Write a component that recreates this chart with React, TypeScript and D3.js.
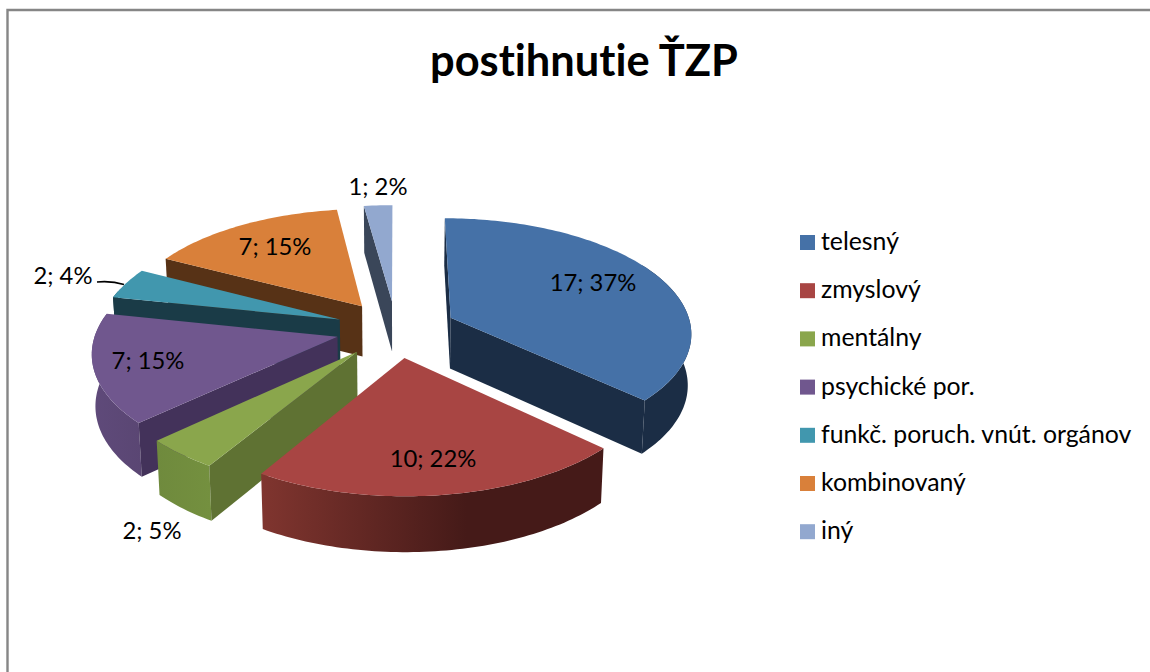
import React from "react";
import * as d3 from "d3";

const categories = ["telesný", "zmyslový", "mentálny", "psychické por.", "funkč. poruch. vnút. orgánov", "kombinovaný", "iný"];
const counts = [17, 10, 2, 7, 2, 7, 1];
const percents = [37, 22, 5, 15, 4, 15, 2];
const title = "postihnutie ŤZP";

const topColors = ["#4571A7", "#A84543", "#8AA64C", "#70578E", "#4197AE", "#D9803A", "#92A8CF"];
const wallColors = ["#1B2D45", "#451A18", "#5F7233", "#43325A", "#1A3B47", "#573216", "#3A4659"];
const outerFrom = ["#1B2D45", "#80352F", "#6F8A3D", "#5F4A7A", "#1A3B47", "#573216", "#3A4659"];
const outerTo = ["#1B2D45", "#451A18", "#74903F", "#5A4673", "#1A3B47", "#573216", "#3A4659"];
const legendColors = ["#4571A7", "#A84543", "#8AA64C", "#70578E", "#4197AE", "#D9803A", "#92A8CF"];
const labelPos: [number, number][] = [[593, 291], [433, 467], [152, 539], [148, 369], [63, 284], [275, 255], [378, 195]];

const CX = 396, CY = 329, RX = 241, RY = 114, P = 0.12, EXPLODE = 0.25;
const pieGen = d3.pie<number>().sort(null).value((d) => d);
const slices = pieGen(counts);
const xScale = d3.scaleLinear().domain([0, 1]).range([0, RX]);
const yScale = d3.scaleLinear().domain([0, 1]).range([0, RY]);
const line = d3.line<[number, number]>().x((d) => d[0]).y((d) => d[1]);

function project(u: number, v: number, bottom: boolean): [number, number] {
  const w = 1 - P * v;
  let X = xScale(u) / w;
  let Y = yScale(v) / w;
  if (bottom) {
    X *= 0.988;
    Y += 51 / (1 - 0.07 * v);
  }
  return [CX + X, CY + Y];
}

function rim(a0: number, a1: number, u0: number, v0: number, bottom: boolean) {
  const n = Math.max(2, Math.ceil(Math.abs(a1 - a0) / 0.02));
  return d3.range(n + 1).map((i) => {
    const a = a0 + ((a1 - a0) * i) / n;
    return project(u0 + Math.sin(a), v0 - Math.cos(a), bottom);
  });
}

export default function App() {
  const rad = (x: number) => (x * Math.PI) / 180;
  const order = [6, 5, 4, 3, 2, 1, 0];
  return (
    <svg width={1150} height={672} viewBox="0 0 1150 672" style={{ position: "absolute", left: 0, top: 0, display: "block", background: "#fff", fontVariantLigatures: "none" }} fontFamily="Lato, Carlito, sans-serif">
      <defs>
        {slices.map((_, i) => (
          <linearGradient key={i} id={`outer${i}`} x1="0" x2="1" y1="0" y2="0">
            <stop offset="0" stopColor={outerFrom[i]} />
            <stop offset={i === 1 ? "0.6" : "1"} stopColor={outerTo[i]} />
            <stop offset="1" stopColor={outerTo[i]} />
          </linearGradient>
        ))}
      </defs>
      <path d="M7.5 672V10H1150" fill="none" stroke="#868686" strokeWidth={2.4} />
      <text x={584} y={76} textAnchor="middle" fontSize={43.4} fontWeight={700} fill="#000">{title}</text>
      {order.map((i) => {
        const s = slices[i];
        const a0 = s.startAngle, a1 = s.endAngle, mid = (a0 + a1) / 2;
        const u0 = EXPLODE * Math.sin(mid), v0 = -EXPLODE * Math.cos(mid);
        const apexT = project(u0, v0, false), apexB = project(u0, v0, true);
        const startT = project(u0 + Math.sin(a0), v0 - Math.cos(a0), false);
        const startB = project(u0 + Math.sin(a0), v0 - Math.cos(a0), true);
        const endT = project(u0 + Math.sin(a1), v0 - Math.cos(a1), false);
        const endB = project(u0 + Math.sin(a1), v0 - Math.cos(a1), true);
        const showStart = -Math.cos(a0 - Math.PI / 2) > -1e-6;
        const showEnd = -Math.cos(a1 + Math.PI / 2) > 1e-6;
        const oa0 = Math.max(a0, rad(60)), oa1 = Math.min(a1, rad(285));
        const top = [apexT, ...rim(a0, a1, u0, v0, false)];
        return (
          <g key={i}>
            {showEnd && <path d={line([apexT, endT, endB, apexB])! + "Z"} fill={wallColors[i]} />}
            {oa1 > oa0 && (
              <path d={line([...rim(oa0, oa1, u0, v0, false), ...rim(oa1, oa0, u0, v0, true)])! + "Z"} fill={`url(#outer${i})`} />
            )}
            {showStart && <path d={line([apexT, startT, startB, apexB])! + "Z"} fill={wallColors[i]} />}
            <path d={line(top)! + "Z"} fill={topColors[i]} />
          </g>
        );
      })}
      <path d="M97 282C108 281 116 282 124 284.5" fill="none" stroke="#000" strokeWidth={1.6} />
      {slices.map((_, i) => (
        <text key={i} x={labelPos[i][0]} y={labelPos[i][1]} textAnchor="middle" fontSize={23.8} fill="#000">
          {`${counts[i]}; ${percents[i]}%`}
        </text>
      ))}
      {categories.map((c, i) => (
        <g key={c}>
          <rect x={800} y={235 + i * 48.2} width={15} height={15} fill={legendColors[i]} />
          <text x={821} y={250 + i * 48.2} fontSize={24.8} fill="#000">{c}</text>
        </g>
      ))}
    </svg>
  );
}
